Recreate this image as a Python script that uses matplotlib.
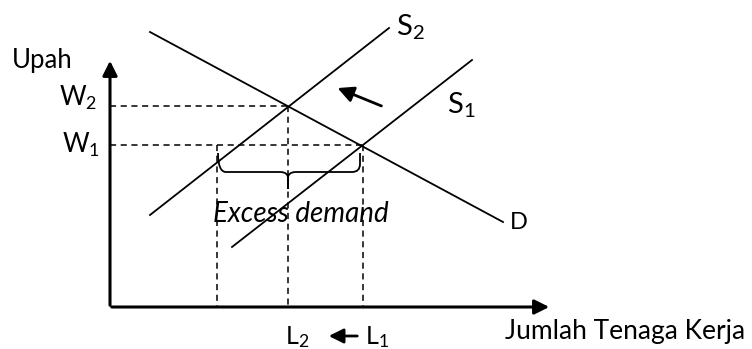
import matplotlib.pyplot as plt
from matplotlib.path import Path
from matplotlib.patches import PathPatch

plt.rcParams['font.family'] = ['Lato', 'DejaVu Sans']
plt.rcParams['mathtext.default'] = 'regular'

# line endpoints in pixel-like units (y grows downward)
demand_x = [150, 503]
demand_y = [32, 222]
s2_x = [150, 389]
s2_y = [215, 28]
s1_x = [232, 472]
s1_y = [247, 60]

origin = (110, 307)
w2_level = 106
w1_level = 145
l2_pos = 288
l1_pos = 363
excess_left = 217

fig = plt.figure(figsize=(7.52, 3.49), dpi=100)
ax = fig.add_axes([0, 0, 1, 1])
ax.set_xlim(0, 752)
ax.set_ylim(349, 0)
ax.axis('off')

# axes with arrows
ax.annotate('', xy=(origin[0], 58), xytext=(origin[0], origin[1] + 1),
            arrowprops=dict(arrowstyle='-|>', lw=2.2, color='black', mutation_scale=22))
ax.annotate('', xy=(552, origin[1]), xytext=(origin[0] - 1, origin[1]),
            arrowprops=dict(arrowstyle='-|>', lw=2.2, color='black', mutation_scale=22))

# curves
ax.plot(demand_x, demand_y, color='black', lw=1.3)
ax.plot(s2_x, s2_y, color='black', lw=1.3)
ax.plot(s1_x, s1_y, color='black', lw=1.3)

# dashed guides
dash = dict(color='black', lw=1.1, linestyle=(0, (4, 3)))
ax.plot([origin[0], l2_pos], [w2_level, w2_level], **dash)
ax.plot([l2_pos, l2_pos], [w2_level, origin[1]], **dash)
ax.plot([origin[0], l1_pos], [w1_level, w1_level], **dash)
ax.plot([l1_pos, l1_pos], [w1_level, origin[1]], **dash)
ax.plot([excess_left, excess_left], [w1_level, origin[1]], **dash)

# brace under excess demand
bl, br, bm = excess_left + 1, l1_pos - 3, l2_pos
top, mid, tip = 153, 172, 189
codes = [Path.MOVETO, Path.CURVE3, Path.CURVE3, Path.LINETO,
         Path.LINETO, Path.CURVE3, Path.CURVE3, Path.LINETO, Path.LINETO,
         Path.LINETO, Path.CURVE3, Path.CURVE3,
         Path.LINETO, Path.CURVE3, Path.CURVE3, Path.LINETO]
verts = [(bl, top), (bl, mid), (bl + 8, mid), (bm - 8, mid),
         (bm - 8, mid), (bm, mid), (bm, mid + 6), (bm, tip), (bm, mid + 6),
         (bm, mid + 6), (bm, mid), (bm + 8, mid),
         (br - 8, mid), (br, mid), (br, mid - 8), (br, top)]
ax.add_patch(PathPatch(Path(verts, codes), fill=False, lw=1.3, color='black'))

# shift arrow
ax.annotate('', xy=(335, 87), xytext=(384, 107),
            arrowprops=dict(arrowstyle='-|>', lw=2, color='black', mutation_scale=24))
# L1 -> L2 arrow
ax.annotate('', xy=(326, 336), xytext=(360, 336),
            arrowprops=dict(arrowstyle='-|>', lw=2, color='black', mutation_scale=22))

txt = dict(ha='left', va='baseline')
ax.text(12, 68, 'Upah', fontsize=18.5, **txt)
ax.text(59, 106, 'W$_2$', fontsize=18.5, **txt)
ax.text(62, 153, 'W$_1$', fontsize=18.5, **txt)
ax.text(396, 36, 'S$_2$', fontsize=21, **txt)
ax.text(447, 113, 'S$_1$', fontsize=21, **txt)
ax.text(510, 229, 'D', fontsize=17, **txt)
ax.text(213, 222, 'Excess demand', fontsize=20, style='italic', **txt)
ax.text(285, 344, 'L$_2$', fontsize=18, **txt)
ax.text(365, 344, 'L$_1$', fontsize=18, **txt)
ax.text(505, 339, 'Jumlah Tenaga Kerja', fontsize=19, **txt)

fig.savefig('out.png', dpi=100)
